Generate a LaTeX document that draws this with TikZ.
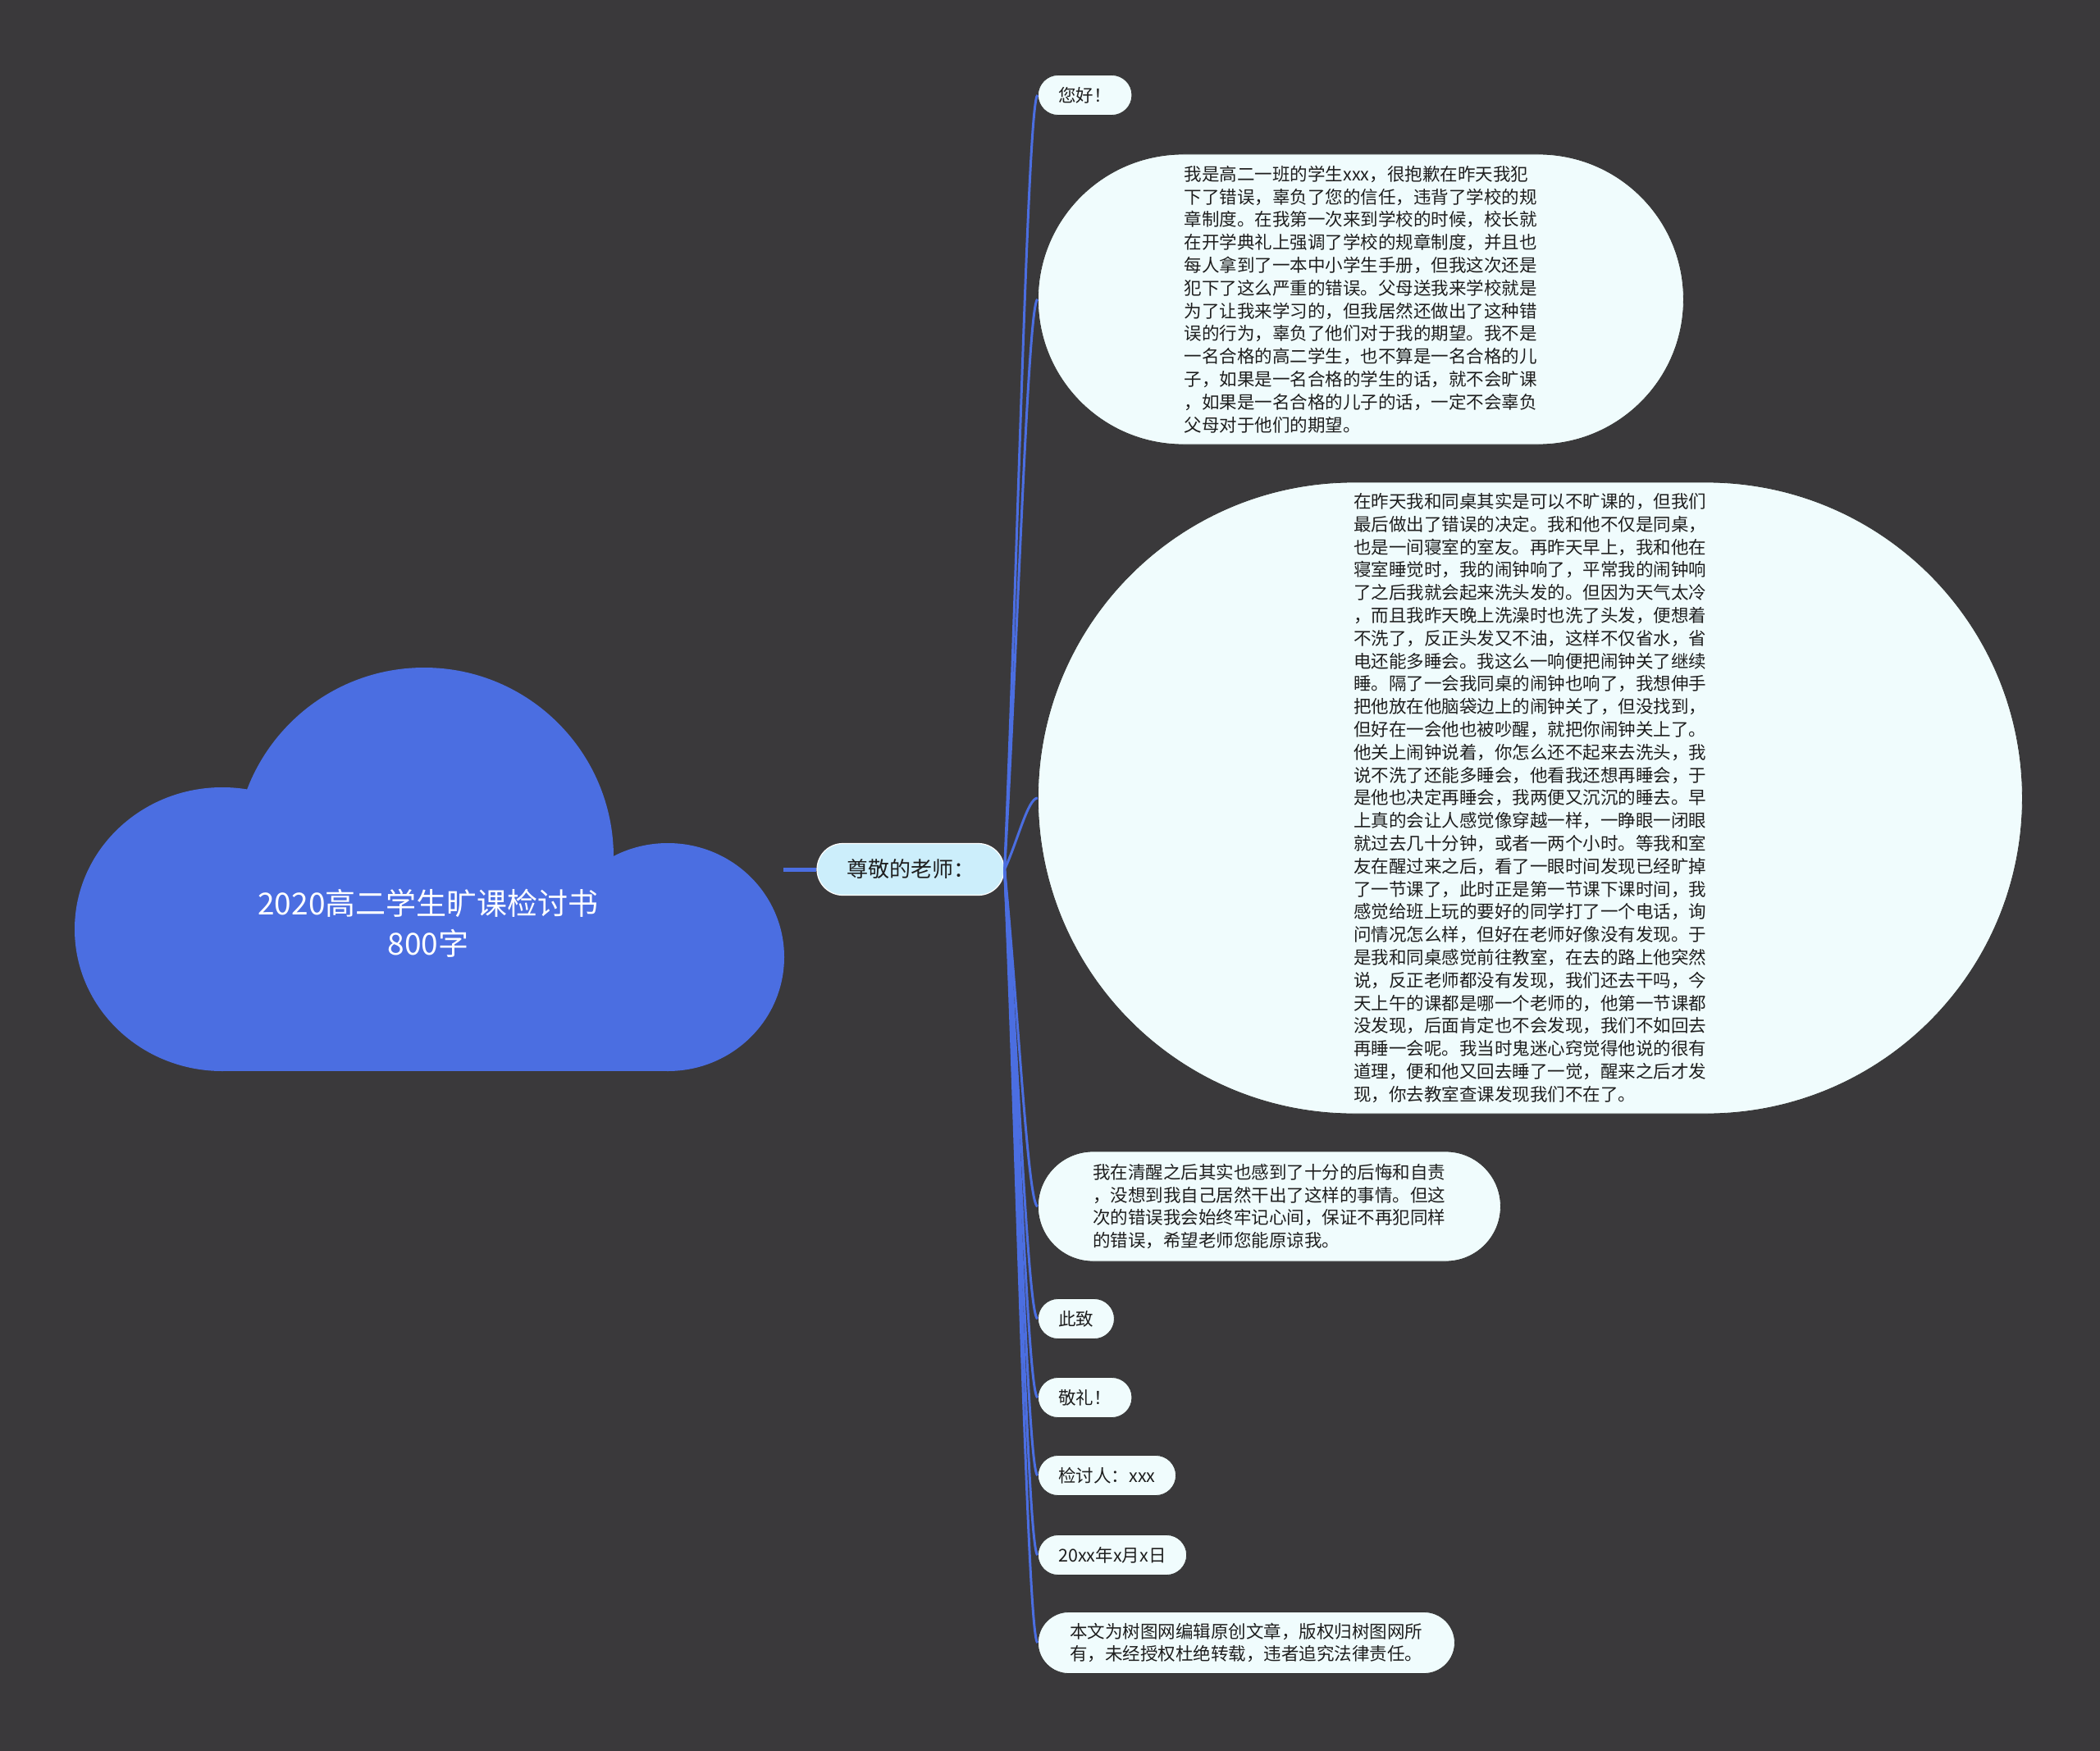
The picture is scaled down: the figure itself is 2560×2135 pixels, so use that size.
\documentclass[tikz,border=0pt]{standalone}
\usepackage{fontspec}
\setmainfont{Noto Sans CJK SC}
\usetikzlibrary{calc}
\definecolor{bg}{RGB}{58,57,59}
\definecolor{cloudblue}{RGB}{75,110,225}
\definecolor{linkblue}{RGB}{75,110,225}
\definecolor{leaf}{RGB}{240,252,253}
\definecolor{midfill}{RGB}{204,238,251}
\definecolor{ink}{RGB}{30,30,30}
\begin{document}
\begin{tikzpicture}[x=1pt,y=-1pt,
  leafbox/.style={fill=leaf, draw=black!80, line width=0.8pt, inner sep=0pt, anchor=west,
    text=ink, align=left, font=\fontsize{21.5}{27.8}\selectfont},
  pill/.style={leafbox, minimum height=49pt, inner xsep=25pt, rounded corners=24.5pt},
  link/.style={draw=linkblue, line width=3pt}]
\fill[bg] (0,0) rectangle (2560,2135);
\useasboundingbox (0,0) rectangle (2560,2135);
% cloud
\fill[cloudblue] (517,1045) ellipse [x radius=231, y radius=231];
\fill[cloudblue] (271,1133) ellipse [x radius=180, y radius=173];
\fill[cloudblue] (814,1167) ellipse [x radius=142, y radius=139];
\fill[cloudblue] (271,1100) rectangle (814,1306);
\node[text=white, font=\fontsize{37}{49}\selectfont, align=center] (title) at (522,1126) {2020高二学生旷课检讨书\\800字};
\node[minimum width=862pt, minimum height=493pt, inner sep=0pt] (root) at (524,1060) {};
% central
\node[fill=midfill, draw=white, line width=1.2pt, minimum width=228pt, minimum height=63pt,
  rounded corners=31.5pt, inner sep=0pt, font=\fontsize{26}{30}\selectfont, text=ink] (teach) at (1110,1060) {尊敬的老师：};
% children
\node[pill] (n1) at (1265,116) {您好！};
\node[leafbox, minimum width=787pt, minimum height=354pt, rounded corners=177pt] (n2) at (1265,365) {我是高二一班的学生xxx，很抱歉在昨天我犯\\下了错误，辜负了您的信任，违背了学校的规\\章制度。在我第一次来到学校的时候，校长就\\在开学典礼上强调了学校的规章制度，并且也\\每人拿到了一本中小学生手册，但我这次还是\\犯下了这么严重的错误。父母送我来学校就是\\为了让我来学习的，但我居然还做出了这种错\\误的行为，辜负了他们对于我的期望。我不是\\一名合格的高二学生，也不算是一名合格的儿\\子，如果是一名合格的学生的话，就不会旷课\\，如果是一名合格的儿子的话，一定不会辜负\\父母对于他们的期望。};
\node[leafbox, minimum width=1200pt, minimum height=770pt, rounded corners=385pt] (n3) at (1265,973) {在昨天我和同桌其实是可以不旷课的，但我们\\最后做出了错误的决定。我和他不仅是同桌，\\也是一间寝室的室友。再昨天早上，我和他在\\寝室睡觉时，我的闹钟响了，平常我的闹钟响\\了之后我就会起来洗头发的。但因为天气太冷\\，而且我昨天晚上洗澡时也洗了头发，便想着\\不洗了，反正头发又不油，这样不仅省水，省\\电还能多睡会。我这么一响便把闹钟关了继续\\睡。隔了一会我同桌的闹钟也响了，我想伸手\\把他放在他脑袋边上的闹钟关了，但没找到，\\但好在一会他也被吵醒，就把你闹钟关上了。\\他关上闹钟说着，你怎么还不起来去洗头，我\\说不洗了还能多睡会，他看我还想再睡会，于\\是他也决定再睡会，我两便又沉沉的睡去。早\\上真的会让人感觉像穿越一样，一睁眼一闭眼\\就过去几十分钟，或者一两个小时。等我和室\\友在醒过来之后，看了一眼时间发现已经旷掉\\了一节课了，此时正是第一节课下课时间，我\\感觉给班上玩的要好的同学打了一个电话，询\\问情况怎么样，但好在老师好像没有发现。于\\是我和同桌感觉前往教室，在去的路上他突然\\说，反正老师都没有发现，我们还去干吗，今\\天上午的课都是哪一个老师的，他第一节课都\\没发现，后面肯定也不会发现，我们不如回去\\再睡一会呢。我当时鬼迷心窍觉得他说的很有\\道理，便和他又回去睡了一觉，醒来之后才发\\现，你去教室查课发现我们不在了。};
\node[leafbox, minimum width=564pt, minimum height=134pt, rounded corners=67pt] (n4) at (1265,1471) {我在清醒之后其实也感到了十分的后悔和自责\\，没想到我自己居然干出了这样的事情。但这\\次的错误我会始终牢记心间，保证不再犯同样\\的错误，希望老师您能原谅我。};
\node[pill] (n5) at (1265,1608) {此致};
\node[pill] (n6) at (1265,1704) {敬礼！};
\node[pill] (n7) at (1265,1799) {检讨人：xxx};
\node[pill] (n8) at (1265,1896) {20xx年x月x日};
\node[leafbox, minimum width=508pt, minimum height=75pt, rounded corners=37.5pt] (n9) at (1265,2003) {本文为树图网编辑原创文章，版权归树图网所\\有，未经授权杜绝转载，违者追究法律责任。};
% connectors
\draw[link, line width=5pt] (root.east) -- (teach.west);
\foreach \n in {n1,n2,n3,n4,n5,n6,n7,n8,n9}
  \draw[link] (teach.east) .. controls ($(teach.east)!0.4!(\n.west)$) and ($(\n.west)+(-12,0)$) .. (\n.west);
\end{tikzpicture}
\end{document}
